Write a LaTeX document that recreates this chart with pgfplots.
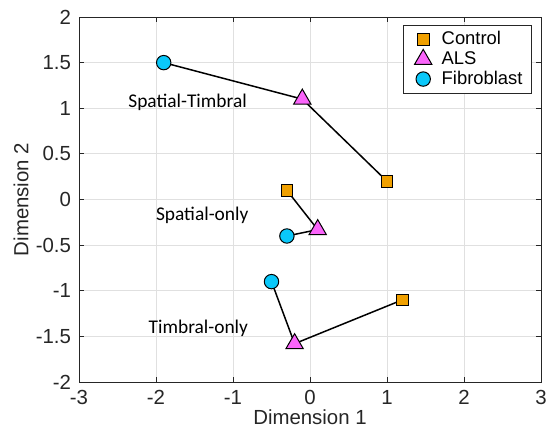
\documentclass[border=0pt]{standalone}
\usepackage{fontspec}
\setmainfont{Liberation Sans}
\newfontfamily\annfont{Carlito}
\usepackage{pgfplots}
\pgfplotsset{compat=1.18}
\definecolor{ctrl}{RGB}{240,160,0}
\definecolor{als}{RGB}{250,100,250}
\definecolor{fib}{RGB}{10,200,250}
\definecolor{axc}{gray}{0.15}
\definecolor{gridc}{gray}{0.88}
\begin{document}
\begin{tikzpicture}[font=\fontsize{10.2}{12}\selectfont]
\path[use as bounding box] (-39.5pt,-25pt) rectangle (235pt,191pt);
\begin{axis}[
  scale only axis, width=231pt, height=182.5pt,
  xmin=-3, xmax=3, ymin=-2, ymax=2,
  xtick={-3,-2,-1,0,1,2,3},
  ytick={-2,-1.5,-1,-0.5,0,0.5,1,1.5,2},
  /pgf/number format/assume math mode=true,
  grid=major,
  major grid style={gridc, line width=0.5pt},
  tick align=inside,
  major tick length=2.5pt,
  axis line style={axc, line width=0.5pt},
  every tick/.style={axc, line width=0.5pt},
  tick label style={text=axc},
  xticklabel style={yshift=-0.5pt},
  yticklabel style={xshift=-0.5pt},
  label style={text=axc},
  xlabel={Dimension 1},
  ylabel={Dimension 2},
  xlabel style={at={([yshift=-17.5pt]rel axis cs:0.5,0)}, anchor=center},
  ylabel style={at={([xshift=-29pt]rel axis cs:0,0.5)}, anchor=center},
  legend image code/.code={\path (0pt,0pt) (14pt,0pt); \draw[#1] plot coordinates {(7pt,0pt)};},
  legend style={at={([xshift=-4.5pt,yshift=-4pt]rel axis cs:1,1)}, anchor=north east,
    draw=axc, line width=0.5pt, fill=white, inner xsep=2.5pt, inner ysep=1pt,
    row sep=-2.2pt, font=\fontsize{9.2}{11}\selectfont},
  legend cell align=left,
]
% connecting lines
\addplot[black, line width=0.75pt, forget plot] coordinates {(-1.9,1.5) (-0.1,1.1) (1.0,0.2)};
\addplot[black, line width=0.75pt, forget plot] coordinates {(-0.3,0.1) (0.1,-0.33) (-0.3,-0.4)};
\addplot[black, line width=0.75pt, forget plot] coordinates {(-0.5,-0.9) (-0.2,-1.58) (1.2,-1.1)};
% markers
\addplot[only marks, mark=square*, mark size=2.9pt, mark options={fill=ctrl, draw=black, line width=0.5pt}]
  coordinates {(1.0,0.2) (-0.3,0.1) (1.2,-1.1)};
\addlegendentry{Control}
\addplot[only marks, mark=triangle*, mark size=5pt, mark options={fill=als, draw=black, line width=0.5pt}]
  coordinates {(-0.1,1.1) (0.1,-0.33) (-0.2,-1.58)};
\addlegendentry{ALS}
\addplot[only marks, mark=*, mark size=3.6pt, mark options={fill=fib, draw=black, line width=0.5pt}]
  coordinates {(-1.9,1.5) (-0.3,-0.4) (-0.5,-0.9)};
\addlegendentry{Fibroblast}
\node[font=\annfont\fontsize{9.7}{11}\selectfont] at (axis cs:-1.59,1.06) {Spatial-Timbral};
\node[font=\annfont\fontsize{9.7}{11}\selectfont] at (axis cs:-1.40,-0.17) {Spatial-only};
\node[font=\annfont\fontsize{9.7}{11}\selectfont] at (axis cs:-1.45,-1.41) {Timbral-only};
\end{axis}
\end{tikzpicture}
\end{document}
